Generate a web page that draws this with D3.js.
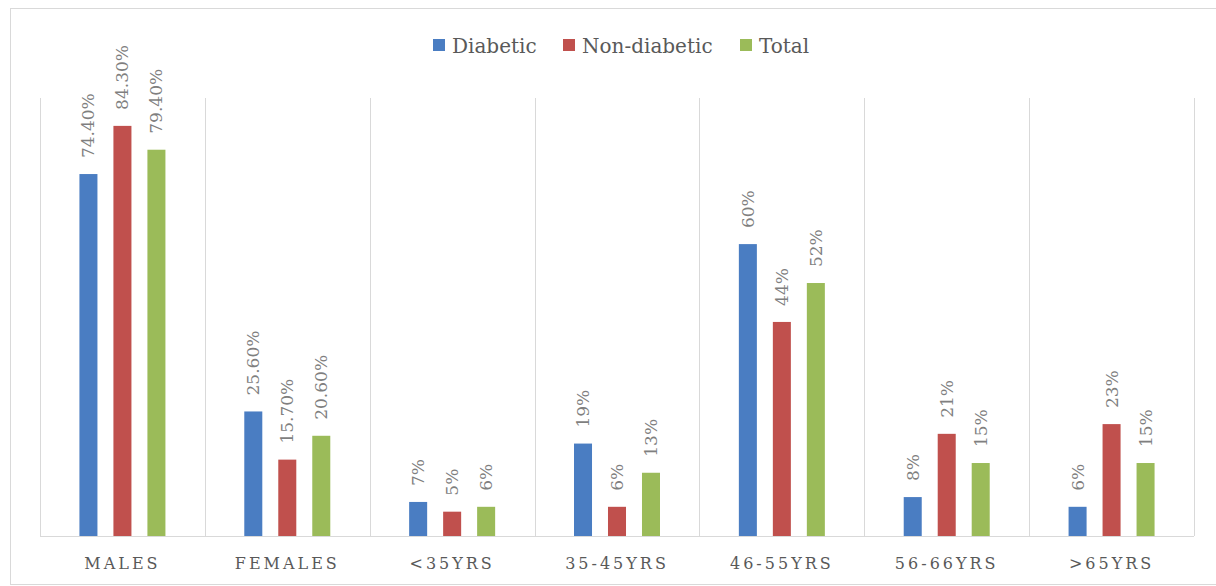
<!DOCTYPE html>
<html>
<head>
<meta charset="utf-8">
<script src="https://cdn.jsdelivr.net/npm/d3@7"></script>
<style>
body { margin: 0; background: #fff; }
svg text { font-family: "DejaVu Serif", "Liberation Serif", serif; }
</style>
</head>
<body>
<svg></svg>
<script>
var categories = ["MALES", "FEMALES", "<35YRS", "35-45YRS", "46-55YRS", "56-66YRS", ">65YRS"];
var seriesNames = ["Diabetic", "Non-diabetic", "Total"];
var diabetic = [74.4, 25.6, 7, 19, 60, 8, 6];
var nonDiabetic = [84.3, 15.7, 5, 6, 44, 21, 23];
var total = [79.4, 20.6, 6, 13, 52, 15, 15];
var diabeticLabels = ["74.40%", "25.60%", "7%", "19%", "60%", "8%", "6%"];
var nonDiabeticLabels = ["84.30%", "15.70%", "5%", "6%", "44%", "21%", "23%"];
var totalLabels = ["79.40%", "20.60%", "6%", "13%", "52%", "15%", "15%"];
const colors = ["#4a7dc2", "#c0504d", "#9bbb59"];

var width = 1216;
var height = 586;
var svg = d3.select("svg").attr("width", width).attr("height", height);

// outer frame
svg.append("rect")
	.attr("x", 10.5).attr("y", 8.5)
	.attr("width", 1212).attr("height", 576)
	.style("fill", "none").style("stroke", "#d9d9d9");

var plotLeft = 40, plotRight = 1194, plotTop = 98, plotBottom = 536;

var x = d3.scaleBand().domain(categories).range([plotLeft, plotRight]);
var xs = d3.scaleBand().domain(seriesNames)
	.range([x.bandwidth()/2 - 43, x.bandwidth()/2 + 43]).paddingInner(0.47);
var y = d3.scaleLinear().domain([0, 100]).range([plotBottom, 49.5]);

// vertical separators
var seps = categories.map(function(c){ return x(c); }).concat([plotRight]);
svg.selectAll(".sep").data(seps)
	.enter().append("line")
	.attr("class", "sep")
	.attr("x1", function(d){ return Math.round(d) + 0.5; })
	.attr("x2", function(d){ return Math.round(d) + 0.5; })
	.attr("y1", plotTop).attr("y2", plotBottom)
	.style("stroke", "#d9d9d9");

var series = [
	{name: seriesNames[0], values: diabetic, labels: diabeticLabels, color: colors[0]},
	{name: seriesNames[1], values: nonDiabetic, labels: nonDiabeticLabels, color: colors[1]},
	{name: seriesNames[2], values: total, labels: totalLabels, color: colors[2]}
];

var rows = [];
series.forEach(function(s){
	categories.forEach(function(c, i){
		rows.push({cat: c, name: s.name, v: s.values[i], label: s.labels[i], color: s.color});
	});
});

svg.selectAll(".bar").data(rows)
	.enter().append("rect")
	.attr("class", "bar")
	.attr("x", function(d){ return x(d.cat) + xs(d.name); })
	.attr("width", xs.bandwidth())
	.attr("y", function(d){ return y(d.v); })
	.attr("height", function(d){ return y(0) - y(d.v); })
	.style("fill", function(d){ return d.color; });

svg.selectAll(".lbl").data(rows)
	.enter().append("text")
	.attr("class", "lbl")
	.attr("transform", function(d){
		var cx = x(d.cat) + xs(d.name) + xs.bandwidth()/2 + 6;
		return "translate(" + cx + "," + (y(d.v) - 16) + ") rotate(-90)";
	})
	.style("font-size", "17px")
	.style("fill", "#7f7f7f")
	.text(function(d){ return d.label; });

// baseline
svg.append("line")
	.attr("x1", plotLeft).attr("x2", plotRight)
	.attr("y1", plotBottom + 0.5).attr("y2", plotBottom + 0.5)
	.style("stroke", "#d9d9d9");

// x axis labels
var xAxis = d3.axisBottom(x).tickSize(0).tickPadding(0);
var gx = svg.append("g").attr("transform", "translate(0," + plotBottom + ")").call(xAxis);
gx.select(".domain").remove();
gx.selectAll("text")
	.attr("y", 33)
	.attr("dy", 0)
	.style("font-family", "'DejaVu Serif', 'Liberation Serif', serif")
	.style("font-size", "16px")
	.style("letter-spacing", "3px")
	.style("fill", "#595959");

// legend
var legendX = [433, 563, 740];
var lg = svg.selectAll(".leg").data(series)
	.enter().append("g")
	.attr("class", "leg")
	.attr("transform", function(d, i){ return "translate(" + legendX[i] + ",39)"; });
lg.append("rect").attr("width", 12).attr("height", 12)
	.style("fill", function(d){ return d.color; });
lg.append("text").attr("x", 19).attr("y", 14)
	.style("font-size", "20px")
	.style("fill", "#595959")
	.text(function(d){ return d.name; });
</script>
</body>
</html>
